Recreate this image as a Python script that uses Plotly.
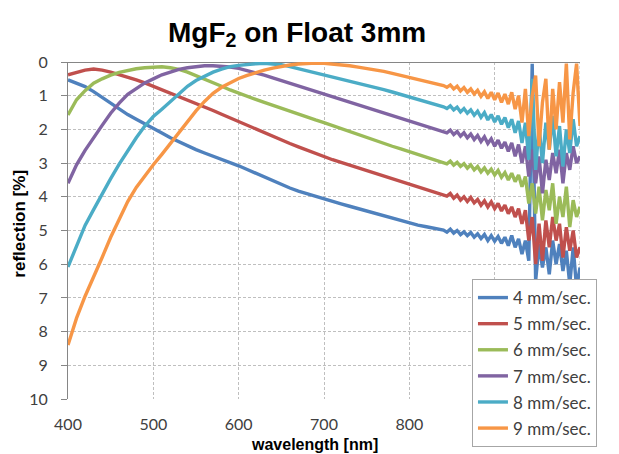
import plotly.graph_objects as go

wavelength = list(range(400, 841, 10)) + list(range(844, 1001, 4))

r4 = [0.53, 0.62, 0.73, 0.88, 1.05, 1.23, 1.4, 1.56, 1.7, 1.83, 1.97, 2.11, 2.25, 2.37, 2.49, 2.6, 2.7, 2.79, 2.89, 2.98,
      3.08, 3.19, 3.3, 3.42, 3.54, 3.65, 3.74, 3.83, 3.91, 3.99, 4.07, 4.14, 4.21, 4.28, 4.35, 4.42, 4.5, 4.57, 4.64, 4.72,
      4.78, 4.84, 4.89, 4.94, 4.99,
      5.05, 4.96, 5.08, 5.0, 5.12, 5.04, 5.15, 5.06, 5.2, 5.1, 5.24, 5.12, 5.3, 5.15, 5.32, 5.18, 5.38, 5.2, 5.45, 5.15,
      5.5, 5.25, 5.7, 5.3, 5.9, 0.05, 6.5, 5.4, 6.1, 5.5, 6.3, 5.3, 6.0, 5.4, 6.2, 5.6, 6.6, 5.5, 6.7, 6.1]

r5 = [0.38, 0.3, 0.24, 0.21, 0.24, 0.3, 0.37, 0.44, 0.53, 0.62, 0.72, 0.83, 0.93, 1.03, 1.12, 1.22, 1.33, 1.44, 1.55, 1.66,
      1.78, 1.89, 2.0, 2.11, 2.22, 2.32, 2.42, 2.52, 2.62, 2.72, 2.82, 2.9, 2.98, 3.06, 3.14, 3.22, 3.3, 3.38, 3.46, 3.54,
      3.62, 3.7, 3.78, 3.86, 3.93,
      3.98, 3.9, 4.04, 3.95, 4.1, 4.0, 4.14, 4.02, 4.18, 4.08, 4.25, 4.12, 4.3, 4.15, 4.35, 4.2, 4.42, 4.25, 4.5, 4.3,
      4.6, 4.35, 4.8, 4.4, 5.3, 4.6, 6.0, 4.8, 5.9, 4.7, 5.5, 4.6, 5.3, 4.8, 5.8, 4.9, 5.6, 5.0, 5.8, 5.5]

r6 = [1.57, 1.12, 0.85, 0.63, 0.5, 0.39, 0.31, 0.25, 0.2, 0.17, 0.15, 0.14, 0.17, 0.22, 0.3, 0.4, 0.5, 0.61, 0.72, 0.83,
      0.93, 1.02, 1.11, 1.2, 1.29, 1.38, 1.47, 1.56, 1.64, 1.72, 1.8, 1.89, 1.98, 2.07, 2.16, 2.25, 2.33, 2.41, 2.5, 2.58,
      2.66, 2.74, 2.82, 2.9, 2.97,
      3.02, 2.94, 3.06, 2.98, 3.1, 3.02, 3.15, 3.05, 3.2, 3.1, 3.26, 3.14, 3.3, 3.18, 3.35, 3.22, 3.42, 3.28, 3.5, 3.3,
      3.55, 3.35, 3.7, 3.4, 4.2, 3.6, 4.5, 3.7, 4.7, 3.8, 4.4, 3.6, 4.8, 4.0, 4.6, 3.7, 4.9, 4.1, 4.6, 4.3]

r7 = [3.6, 3.05, 2.62, 2.27, 1.88, 1.52, 1.22, 0.96, 0.78, 0.62, 0.5, 0.38, 0.3, 0.22, 0.17, 0.13, 0.11, 0.11, 0.12, 0.15,
      0.19, 0.25, 0.32, 0.39, 0.47, 0.55, 0.62, 0.7, 0.78, 0.86, 0.94, 1.02, 1.1, 1.18, 1.26, 1.34, 1.42, 1.5, 1.58, 1.66,
      1.74, 1.82, 1.9, 1.98, 2.06,
      2.1, 2.02, 2.15, 2.06, 2.2, 2.1, 2.25, 2.14, 2.3, 2.18, 2.36, 2.22, 2.42, 2.28, 2.5, 2.32, 2.56, 2.38, 2.65, 2.4,
      2.8, 2.45, 3.0, 2.5, 3.4, 2.6, 3.6, 2.8, 3.9, 2.9, 3.5, 2.7, 3.3, 2.6, 3.6, 2.7, 3.2, 2.5, 3.0, 2.8]

r8 = [6.08, 5.45, 4.85, 4.38, 3.9, 3.46, 3.03, 2.63, 2.25, 1.9, 1.62, 1.4, 1.18, 0.95, 0.72, 0.55, 0.42, 0.3, 0.21, 0.14,
      0.1, 0.07, 0.05, 0.04, 0.05, 0.08, 0.14, 0.2, 0.26, 0.32, 0.38, 0.44, 0.5, 0.56, 0.62, 0.68, 0.75, 0.82, 0.89, 0.96,
      1.03, 1.1, 1.18, 1.26, 1.33,
      1.38, 1.3, 1.42, 1.34, 1.48, 1.38, 1.52, 1.42, 1.58, 1.46, 1.64, 1.5, 1.72, 1.56, 1.78, 1.6, 1.85, 1.65, 1.95, 1.7,
      2.1, 1.75, 2.4, 1.8, 2.9, 0.5, 3.2, 1.9, 3.0, 1.8, 2.6, 1.6, 2.8, 1.9, 3.1, 2.0, 2.7, 1.7, 2.5, 2.2]

r9 = [8.4, 7.6, 6.95, 6.4, 5.8, 5.2, 4.65, 4.14, 3.72, 3.37, 3.05, 2.74, 2.42, 2.1, 1.76, 1.45, 1.17, 0.93, 0.75, 0.61,
      0.49, 0.4, 0.31, 0.24, 0.18, 0.13, 0.09, 0.06, 0.04, 0.03, 0.04, 0.06, 0.08, 0.11, 0.15, 0.19, 0.23, 0.28, 0.34, 0.4,
      0.46, 0.52, 0.58, 0.64, 0.7,
      0.75, 0.68, 0.8, 0.72, 0.86, 0.76, 0.9, 0.8, 0.95, 0.84, 1.02, 0.88, 1.08, 0.9, 1.12, 0.92, 1.2, 0.95, 1.25, 0.9,
      1.4, 1.0, 1.8, 0.8, 2.2, 1.0, 0.4, 2.5, 1.2, 0.5, 2.6, 0.8, 2.0, 0.6, 1.8, 0.05, 2.3, 0.9, 0.05, 1.9]

series_names = ["4 mm/sec.", "5 mm/sec.", "6 mm/sec.", "7 mm/sec.", "8 mm/sec.", "9 mm/sec."]
series_values = [r4, r5, r6, r7, r8, r9]
colors = ["#4F81BD", "#C0504D", "#9BBB59", "#8064A2", "#4BACC6", "#F79646"]

x_ticks = [400, 500, 600, 700, 800, 900]
top_ticks = [400, 500, 600, 700, 800, 900, 1000]
y_ticks = list(range(0, 11))

fig = go.Figure()
for name, vals, col in zip(series_names, series_values, colors):
    fig.add_trace(go.Scatter(x=wavelength, y=vals, mode="lines", name=name,
                             legendgroup=name,
                             line=dict(color=col, width=3.4)))

tick_font = dict(family="Lato, Noto Sans, sans-serif", size=16, color="#404040")
title_family = "Liberation Sans, Arial, sans-serif"
grid_col = "#BFBFBF"

# right-edge gridline at 1000 nm
fig.add_shape(type="line", xref="x", yref="paper", x0=1000, x1=1000, y0=0, y1=1,
              line=dict(color=grid_col, width=1, dash="3px,2px"), layer="below")

# axis titles
fig.add_annotation(text="<b>wavelength [nm]</b>", xref="paper", yref="paper", x=0.482, y=-0.136,
                   xanchor="center", yanchor="middle", showarrow=False,
                   font=dict(family=title_family, size=16, color="black"))
fig.add_annotation(text="<b>reflection [%]</b>", xref="paper", yref="paper", x=-0.094, y=0.52,
                   xanchor="center", yanchor="middle", showarrow=False, textangle=-90,
                   font=dict(family=title_family, size=17, color="black"))

fig.update_layout(
    width=619, height=454,
    margin=dict(l=68, r=39, t=62, b=55, autoexpand=False),
    paper_bgcolor="white", plot_bgcolor="white",
    title=dict(text="<b>MgF<sub>2</sub> on Float 3mm</b>", x=0.48, xref="container", xanchor="center",
               y=0.93, yref="container", yanchor="middle",
               font=dict(family=title_family, size=28, color="black")),
    xaxis=dict(range=[400, 1000], tickvals=x_ticks, automargin=False,
               showgrid=True, gridcolor=grid_col, griddash="3px,2px", gridwidth=1,
               showline=False, zeroline=False, ticks="", tickfont=tick_font, ticklabelstandoff=14),
    xaxis2=dict(range=[400, 1000], overlaying="x", side="top", tickvals=top_ticks, showticklabels=False,
                automargin=False,
                ticks="outside", ticklen=4, tickcolor="#868686", showgrid=False, zeroline=False, showline=False),
    yaxis=dict(range=[10, 0], tickvals=y_ticks, automargin=False,
               showgrid=True, gridcolor=grid_col, griddash="3px,2px", gridwidth=1,
               zeroline=True, zerolinecolor="#868686", zerolinewidth=1,
               showline=True, linecolor="#868686", linewidth=1,
               ticks="outside", ticklen=6, tickcolor="#868686", tickfont=tick_font, ticklabelstandoff=10),
    legend=dict(x=0.789, y=0.356, xanchor="left", yanchor="top", bgcolor="white",
                bordercolor="#A6A6A6", borderwidth=1, tracegroupgap=1,
                font=dict(family="Lato, Noto Sans, sans-serif", size=17, color="#404040")),
    showlegend=True,
)

fig.write_html("out.html", config={"displayModeBar": False},
               post_script="document.body.style.margin='0';document.body.style.padding='0';")
